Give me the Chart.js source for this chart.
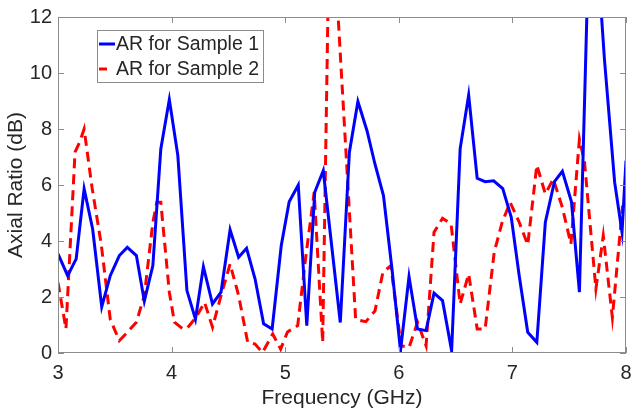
<!DOCTYPE html>
<html>
<head>
<meta charset="utf-8">
<script src="https://cdn.jsdelivr.net/npm/chart.js@4"></script>
<style>
  html, body { margin: 0; padding: 0; background: #fff; }
  #wrap { width: 631px; height: 411px; }
</style>
</head>
<body>
<div id="wrap"><canvas id="arChart"></canvas></div>
<script>
// ============================
// Data
// ============================
const freq1 = [3.00, 3.085, 3.16, 3.23, 3.305, 3.385, 3.46, 3.54, 3.61, 3.69, 3.76, 3.835, 3.905, 3.98,
  4.055, 4.135, 4.21, 4.28, 4.36, 4.435, 4.515, 4.59, 4.66, 4.735, 4.81, 4.885, 4.965, 5.035, 5.115,
  5.19, 5.26, 5.335, 5.485, 5.565, 5.64, 5.72, 5.79, 5.865, 5.94, 6.015, 6.09, 6.165, 6.24, 6.31,
  6.385, 6.465, 6.54, 6.615, 6.69, 6.76, 6.835, 6.915, 6.99, 7.06, 7.135, 7.215, 7.29, 7.37, 7.44,
  7.52, 7.59, 7.665, 7.735, 7.81, 7.90, 7.965, 8.00];
const ar1 = [3.54, 2.76, 3.36, 5.86, 4.43, 1.65, 2.76, 3.48, 3.77, 3.48, 1.85, 3.12, 7.29, 9.05,
  7.05, 2.23, 1.21, 3.08, 1.75, 2.17, 4.40, 3.42, 3.74, 2.64, 1.04, 0.86, 3.83, 5.40, 6.00,
  0.98, 5.74, 6.51, 1.09, 7.17, 8.98, 7.94, 6.75, 5.62, 3.00, 0.08, 2.73, 0.86, 0.80, 2.14,
  1.87, 0.08, 7.29, 9.21, 6.24, 6.12, 6.15, 5.87, 4.85, 2.76, 0.74, 0.38, 4.67, 6.12, 6.49,
  5.40, 2.17, 13.5, 15.0, 10.5, 6.10, 4.31, 6.87];

const freq2 = [3.00, 3.07, 3.15, 3.19, 3.23, 3.30, 3.38, 3.46, 3.54, 3.61, 3.69, 3.76, 3.835, 3.87,
  3.905, 3.98, 4.025, 4.10, 4.14, 4.215, 4.29, 4.36, 4.435, 4.515, 4.59, 4.67, 4.735, 4.80, 4.89,
  4.96, 5.02, 5.11, 5.18, 5.255, 5.33, 5.395, 5.62, 5.71, 5.79, 5.86, 5.93, 6.02, 6.09, 6.165,
  6.24, 6.31, 6.385, 6.46, 6.54, 6.615, 6.69, 6.76, 6.84, 6.91, 6.98, 7.06, 7.135, 7.215, 7.29,
  7.36, 7.44, 7.515, 7.59, 7.635, 7.735, 7.80, 7.88, 7.97];
const ar2 = [2.52, 0.86, 7.17, 7.52, 8.00, 5.90, 3.90, 1.20, 0.44, 0.74, 1.10, 2.05, 4.67, 5.38,
  5.38, 2.17, 1.10, 0.86, 0.90, 1.27, 1.81, 0.92, 2.05, 3.18, 2.05, 0.38, 0.32, 0.02, 0.68,
  0.14, 0.75, 0.98, 3.40, 5.74, 0.38, 17.0, 1.20, 1.12, 1.50, 2.88, 3.12, 0.26, 0.20, 1.10,
  0.26, 4.31, 4.81, 4.61, 1.75, 2.82, 0.86, 0.86, 3.60, 4.67, 5.38, 4.67, 3.86, 6.71, 5.68,
  6.21, 5.20, 3.89, 7.64, 6.81, 2.29, 4.19, 1.27, 5.26];

const seriesLabels = ["AR for Sample 1", "AR for Sample 2"];
const xTicks = [3, 4, 5, 6, 7, 8];
const yTicks = [0, 2, 4, 6, 8, 10, 12];

const textColor = "#262626";
const frameColor = "#8c8c8c";
const fontFamily = "'Liberation Sans', Arial, sans-serif";

function toPoints(xs, ys) {
  return xs.map((x, i) => ({ x: x, y: ys[i] }));
}

// ============================
// Frame, inward ticks and boxed legend (MATLAB look)
// ============================
const framePlugin = {
  id: "frame",
  afterDatasetsDraw(chart) {
    const { ctx, chartArea: a, scales } = chart;
    const tick = 6;
    ctx.save();
    ctx.strokeStyle = frameColor;
    ctx.lineWidth = 1;
    ctx.strokeRect(a.left + 0.5, a.top + 0.5, a.right - a.left - 1, a.bottom - a.top - 1);
    ctx.beginPath();
    xTicks.forEach((v) => {
      const px = Math.round(scales.x.getPixelForValue(v)) + 0.5;
      ctx.moveTo(px, a.bottom);
      ctx.lineTo(px, a.bottom - tick);
      ctx.moveTo(px, a.top);
      ctx.lineTo(px, a.top + tick);
    });
    yTicks.forEach((v) => {
      const py = Math.round(scales.y.getPixelForValue(v)) + 0.5;
      ctx.moveTo(a.left, py);
      ctx.lineTo(a.left + tick, py);
      ctx.moveTo(a.right, py);
      ctx.lineTo(a.right - tick, py);
    });
    ctx.stroke();

    // legend box
    const bx = 97, by = 30, bw = 166, bh = 52;
    ctx.fillStyle = "#ffffff";
    ctx.fillRect(bx, by, bw, bh);
    ctx.strokeRect(bx + 0.5, by + 0.5, bw, bh);
    ctx.font = "19.5px " + fontFamily;
    ctx.textBaseline = "middle";
    ctx.fillStyle = textColor;
    chart.data.datasets.forEach((ds, i) => {
      const y = by + 14 + i * 25;
      ctx.strokeStyle = ds.borderColor;
      ctx.lineWidth = 3;
      ctx.setLineDash([]);
      ctx.beginPath();
      ctx.moveTo(bx + 2, y);
      ctx.lineTo(bx + (i === 0 ? 18 : 10), y);
      ctx.stroke();
      ctx.fillText(ds.label, bx + 19, y + 1);
    });
    ctx.restore();
  },
};

const ctx = document.getElementById("arChart").getContext("2d");

new Chart(ctx, {
  type: "line",
  data: {
    datasets: [
      {
        label: seriesLabels[0],
        data: toPoints(freq1, ar1),
        borderColor: "#0000ff",
        borderWidth: 3,
        pointRadius: 0,
        tension: 0,
        fill: false,
        clip: 0,
      },
      {
        label: seriesLabels[1],
        data: toPoints(freq2, ar2),
        borderColor: "#ff0000",
        borderWidth: 3,
        borderDash: [10, 6],
        pointRadius: 0,
        tension: 0,
        fill: false,
        clip: 0,
      },
    ],
  },
  options: {
    responsive: true,
    maintainAspectRatio: false,
    animation: false,
    layout: { padding: { top: 17, right: 5, left: 0, bottom: 0 } },
    plugins: {
      legend: { display: false },
      tooltip: { enabled: false },
    },
    scales: {
      x: {
        type: "linear",
        min: 3,
        max: 8,
        afterBuildTicks(scale) {
          scale.ticks = xTicks.map((v) => ({ value: v }));
        },
        afterFit(scale) {
          scale.height = 58;
          // let the "8" run to the edge like the original
          scale.paddingLeft = 0;
          scale.paddingRight = 0;
        },
        grid: { display: false, drawTicks: false },
        border: { display: false },
        ticks: {
          color: textColor,
          font: { family: fontFamily, size: 20 },
          padding: 8,
          maxRotation: 0,
        },
        title: {
          display: true,
          text: "Frequency (GHz)",
          color: textColor,
          font: { family: fontFamily, size: 21 },
          padding: { top: 0, bottom: 0 },
        },
      },
      y: {
        type: "linear",
        min: 0,
        max: 12,
        afterBuildTicks(scale) {
          scale.ticks = yTicks.map((v) => ({ value: v }));
        },
        afterFit(scale) {
          scale.width = 58;
          scale.paddingTop = 0;
          scale.paddingBottom = 0;
        },
        grid: { display: false, drawTicks: false },
        border: { display: false },
        ticks: {
          color: textColor,
          font: { family: fontFamily, size: 20 },
          padding: 6,
        },
        title: {
          display: true,
          text: "Axial Ratio (dB)",
          color: textColor,
          font: { family: fontFamily, size: 21 },
          padding: { top: 4, bottom: 0 },
        },
      },
    },
  },
  plugins: [framePlugin],
});
</script>
</body>
</html>
